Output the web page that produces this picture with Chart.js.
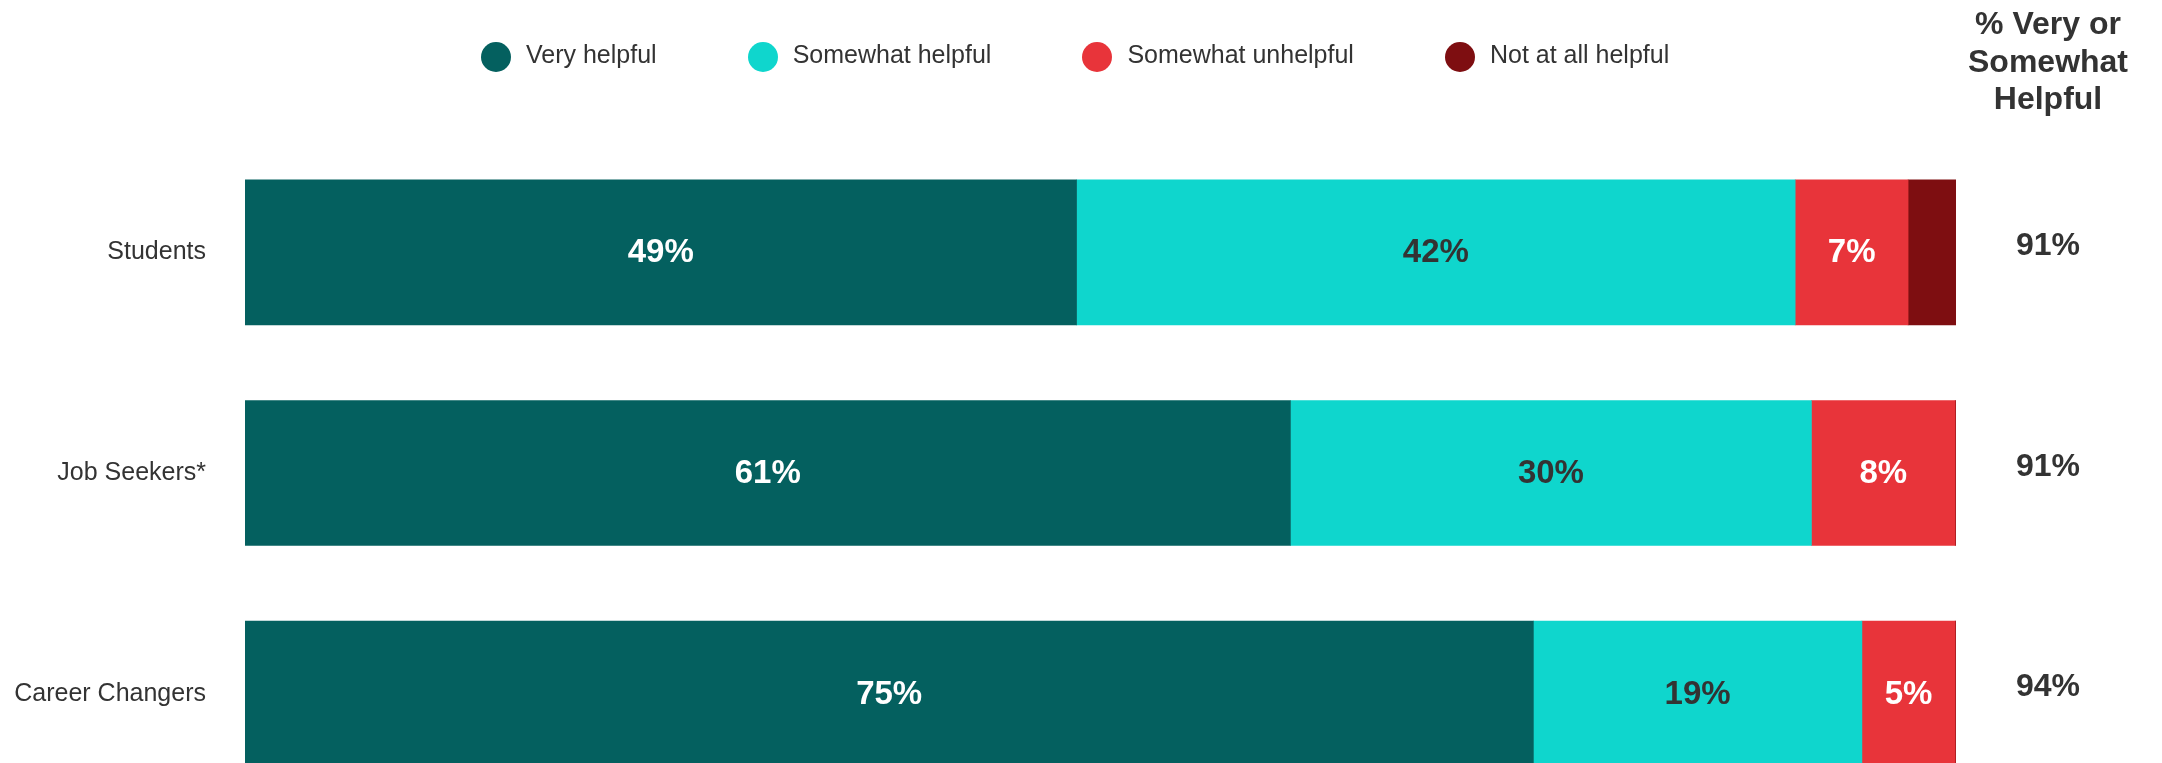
<!DOCTYPE html>
<html>
<head>
<meta charset="utf-8">
<script src="https://cdn.jsdelivr.net/npm/chart.js@4.4.1/dist/chart.umd.min.js"></script>
<style>
    html, body { margin: 0; padding: 0; background: #fff; overflow: hidden; }
    #wrap { position: relative; width: 2162px; height: 763px; overflow: hidden; }
    #grafico { position: absolute; left: 0; top: 0; }
    #legenda { position: absolute; left: 481px; top: 42px; height: 30px; display: flex; align-items: center;
               font-family: 'Liberation Sans', Arial, sans-serif; font-size: 25px; color: #333; z-index: 2; }
    .item { display: flex; align-items: center; margin-right: 91px; }
    .bola { width: 30px; height: 30px; border-radius: 50%; margin-right: 15px; }
    .texto { position: relative; top: -3px; white-space: nowrap; }
</style>
</head>
<body>
<div id="wrap">
    <canvas id="grafico" width="2162" height="850"></canvas>
    <div id="legenda"></div>
</div>
<script>
// categorias e séries (em %)
const grupos = ['Students', 'Job Seekers*', 'Career Changers'];
const series = ['Very helpful', 'Somewhat helpful', 'Somewhat unhelpful', 'Not at all helpful'];
const muitoUtil = [48.6, 61.1, 75.3];
const poucoUtil = [42.0, 30.45, 19.2];
const poucoInutil = [6.6, 8.4, 5.45];
const nadaUtil = [2.8, 0.05, 0.05];
const totalUtil = [91, 91, 94];
const cabecalho = ['% Very or', 'Somewhat', 'Helpful'];

const cores = ['#04605F', '#0FD6CD', '#E8343A', '#7E0E11'];
const corTexto = ['#ffffff', '#333333', '#ffffff', '#ffffff'];

document.addEventListener("DOMContentLoaded", function () {
    // legenda em HTML
    const legenda = document.getElementById('legenda');
    series.forEach((s, i) => {
        const item = document.createElement('div');
        item.className = 'item';
        item.innerHTML = `<div class="bola" style="background:${cores[i]}"></div><span class="texto">${s}</span>`;
        legenda.appendChild(item);
    });

    // rótulos dentro das barras + coluna da direita
    const rotulos = {
        id: 'rotulos',
        afterDatasetsDraw(chart) {
            const ctx = chart.ctx;
            ctx.save();
            ctx.textAlign = 'center';
            ctx.textBaseline = 'middle';
            ctx.font = "bold 33px 'Liberation Sans', Arial, sans-serif";
            chart.data.datasets.forEach((ds, d) => {
                const meta = chart.getDatasetMeta(d);
                meta.data.forEach((bar, i) => {
                    const v = ds.data[i];
                    if (v < 4) return;
                    const p = bar.getProps(['x', 'y', 'base'], true);
                    ctx.fillStyle = corTexto[d];
                    ctx.fillText(Math.round(v) + '%', (p.x + p.base) / 2, p.y + 1);
                });
            });

            const xCol = chart.chartArea.right + 92;
            ctx.fillStyle = '#333333';
            ctx.font = "bold 32px 'Liberation Sans', Arial, sans-serif";
            chart.getDatasetMeta(0).data.forEach((bar, i) => {
                ctx.fillText(totalUtil[i] + '%', xCol, bar.y - 6);
            });

            ctx.textBaseline = 'alphabetic';
            const linhas = [34, 72, 109];
            cabecalho.forEach((t, i) => ctx.fillText(t, xCol, linhas[i]));
            ctx.restore();
        }
    };

    const valores = [muitoUtil, poucoUtil, poucoInutil, nadaUtil];

    new Chart(document.getElementById('grafico'), {
        type: 'bar',
        data: {
            labels: grupos,
            datasets: series.map((s, i) => ({
                label: s,
                data: valores[i],
                backgroundColor: cores[i],
                borderWidth: 0,
                barThickness: 145
            }))
        },
        options: {
            indexAxis: 'y',
            responsive: false,
            animation: false,
            layout: { padding: { top: 142, right: 206, bottom: 4, left: 0 } },
            plugins: { legend: { display: false }, tooltip: { enabled: false } },
            scales: {
                x: { stacked: true, min: 0, max: 100, display: false },
                y: {
                    stacked: true,
                    grid: { display: false },
                    border: { display: false },
                    ticks: {
                        padding: 31,
                        color: '#333333',
                        font: { family: "'Liberation Sans', Arial, sans-serif", size: 25 }
                    },
                    afterFit: (eixo) => { eixo.width = 245; }
                }
            }
        },
        plugins: [rotulos]
    });
});
</script>
</body>
</html>
